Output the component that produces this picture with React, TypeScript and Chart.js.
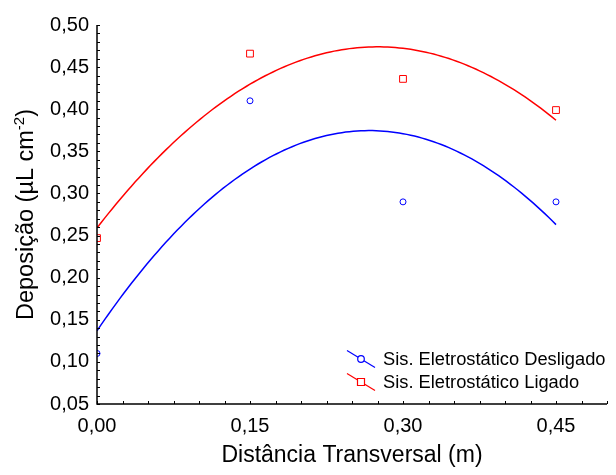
import React, { useEffect, useRef } from 'react';
import { Chart, registerables } from 'chart.js';

Chart.register(...registerables);

// Transverse distance (m) and measured deposition (µL cm-2)
const distances = [0, 0.15, 0.3, 0.45];
const depositOff = [0.11, 0.41, 0.29, 0.29];
const depositOn = [0.247, 0.466, 0.436, 0.399];

const seriesNames = ['Sis. Eletrostático Desligado', 'Sis. Eletrostático Ligado'];
const seriesColors = ['#0000ff', '#ff0000'];

const xTitle = 'Distância Transversal (m)';
const yTitleMain = 'Deposição (µL cm';
const yTitleSup = '-2';
const yTitleEnd = ')';

const FONT = '"Liberation Sans", Arial, sans-serif';

// Least-squares quadratic fit y = a + b x + c x^2
function quadFit(xs: number[], ys: number[]): [number, number, number] {
  const s = [0, 0, 0, 0, 0];
  const t = [0, 0, 0];
  xs.forEach((x, i) => {
    for (let k = 0; k < 5; k++) s[k] += Math.pow(x, k);
    for (let k = 0; k < 3; k++) t[k] += Math.pow(x, k) * ys[i];
  });
  const m = [
    [s[0], s[1], s[2], t[0]],
    [s[1], s[2], s[3], t[1]],
    [s[2], s[3], s[4], t[2]],
  ];
  for (let i = 0; i < 3; i++) {
    for (let j = i + 1; j < 3; j++) {
      const f = m[j][i] / m[i][i];
      for (let k = i; k < 4; k++) m[j][k] -= f * m[i][k];
    }
  }
  const r = [0, 0, 0];
  for (let i = 2; i >= 0; i--) {
    let v = m[i][3];
    for (let k = i + 1; k < 3; k++) v -= m[i][k] * r[k];
    r[i] = v / m[i][i];
  }
  return [r[0], r[1], r[2]];
}

function fitCurve(xs: number[], ys: number[]) {
  const [a, b, c] = quadFit(xs, ys);
  const lo = Math.min(...xs);
  const hi = Math.max(...xs);
  const pts: { x: number; y: number }[] = [];
  const n = 120;
  for (let i = 0; i <= n; i++) {
    const x = lo + ((hi - lo) * i) / n;
    pts.push({ x, y: a + b * x + c * x * x });
  }
  return pts;
}

const fmt = (v: number) => v.toFixed(2).replace('.', ',');

const decorPlugin = {
  id: 'decor',
  afterDraw(chart: any) {
    const { ctx, chartArea: a } = chart;
    const x = chart.scales.x;
    const y = chart.scales.y;
    ctx.save();

    // axis lines
    ctx.strokeStyle = '#000';
    ctx.lineWidth = 1.5;
    ctx.beginPath();
    ctx.moveTo(a.left, a.top);
    ctx.lineTo(a.left, a.bottom);
    ctx.lineTo(a.right, a.bottom);
    ctx.stroke();

    // inward tick marks
    ctx.lineWidth = 1;
    ctx.beginPath();
    for (let i = 5; i <= 50; i++) {
      const py = Math.round(y.getPixelForValue(i / 100)) + 0.5;
      ctx.moveTo(a.left, py);
      ctx.lineTo(a.left + 3, py);
    }
    for (let i = 0; i <= 20; i++) {
      const px = Math.round(x.getPixelForValue(i * 0.025)) + 0.5;
      ctx.moveTo(px, a.bottom);
      ctx.lineTo(px, a.bottom - 3);
    }
    ctx.stroke();

    // axis titles
    ctx.fillStyle = '#000';
    ctx.font = `23px ${FONT}`;
    ctx.textAlign = 'center';
    ctx.textBaseline = 'alphabetic';
    ctx.fillText(xTitle, (a.left + a.right) / 2, 462);

    ctx.save();
    ctx.font = `23.5px ${FONT}`;
    const w1 = ctx.measureText(yTitleMain).width;
    const w3 = ctx.measureText(yTitleEnd).width;
    ctx.font = `15px ${FONT}`;
    const w2 = ctx.measureText(yTitleSup).width;
    const total = w1 + w2 + w3;
    ctx.translate(33, (a.top + a.bottom) / 2);
    ctx.rotate(-Math.PI / 2);
    ctx.textAlign = 'left';
    let cx = -total / 2;
    ctx.font = `23.5px ${FONT}`;
    ctx.fillText(yTitleMain, cx, 0);
    cx += w1;
    ctx.font = `15px ${FONT}`;
    ctx.fillText(yTitleSup, cx, -9);
    cx += w2;
    ctx.font = `23.5px ${FONT}`;
    ctx.fillText(yTitleEnd, cx, 0);
    ctx.restore();

    // legend
    const rows = [359, 382];
    ctx.font = `18.3px ${FONT}`;
    ctx.textAlign = 'left';
    ctx.textBaseline = 'middle';
    rows.forEach((ry, i) => {
      ctx.strokeStyle = seriesColors[i];
      ctx.lineWidth = 1.2;
      ctx.beginPath();
      ctx.moveTo(347, ry - 8.5);
      ctx.lineTo(375, ry + 8.5);
      ctx.stroke();
      ctx.fillStyle = '#fff';
      ctx.beginPath();
      if (i === 0) {
        ctx.arc(361, ry, 3.3, 0, Math.PI * 2);
      } else {
        ctx.rect(357.5, ry - 3.5, 7, 7);
      }
      ctx.fill();
      ctx.stroke();
      ctx.fillStyle = '#000';
      ctx.fillText(seriesNames[i], 383, ry + 1);
    });

    ctx.restore();
  },
};

export default function App() {
  const ref = useRef<HTMLCanvasElement | null>(null);

  useEffect(() => {
    if (!ref.current) return;
    const offPts = distances.map((d, i) => ({ x: d, y: depositOff[i] }));
    const onPts = distances.map((d, i) => ({ x: d, y: depositOn[i] }));

    const chart = new Chart(ref.current, {
      type: 'scatter',
      data: {
        datasets: [
          {
            label: seriesNames[0] + ' (ajuste)',
            data: fitCurve(distances, depositOff),
            showLine: true,
            borderColor: seriesColors[0],
            borderWidth: 1.5,
            pointRadius: 0,
            clip: 0,
          },
          {
            label: seriesNames[1] + ' (ajuste)',
            data: fitCurve(distances, depositOn),
            showLine: true,
            borderColor: seriesColors[1],
            borderWidth: 1.5,
            pointRadius: 0,
            clip: 0,
          },
          {
            label: seriesNames[0],
            data: offPts,
            pointStyle: 'circle',
            pointRadius: 3,
            borderWidth: 1,
            borderColor: seriesColors[0],
            backgroundColor: 'rgba(0,0,0,0)',
            clip: 0,
          },
          {
            label: seriesNames[1],
            data: onPts,
            pointStyle: 'rect',
            pointRadius: 4.8,
            borderWidth: 1,
            borderColor: seriesColors[1],
            backgroundColor: 'rgba(0,0,0,0)',
            clip: 0,
          },
        ],
      },
      options: {
        responsive: false,
        animation: false,
        layout: { padding: { top: 25, right: 9, left: 0, bottom: 0 } },
        plugins: {
          legend: { display: false },
          tooltip: { enabled: false },
        },
        scales: {
          x: {
            type: 'linear',
            min: 0,
            max: 0.5,
            grid: { display: false, drawTicks: false },
            border: { display: false },
            ticks: {
              stepSize: 0.15,
              includeBounds: false,
              autoSkip: false,
              maxRotation: 0,
              padding: 10,
              color: '#000',
              font: { family: FONT, size: 20 },
              callback: (v: any) => fmt(Number(v)),
            },
            afterFit: (s: any) => {
              s.height = 71;
            },
          },
          y: {
            type: 'linear',
            min: 0.05,
            max: 0.5,
            grid: { display: false, drawTicks: false },
            border: { display: false },
            ticks: {
              stepSize: 0.05,
              autoSkip: false,
              padding: 8,
              color: '#000',
              font: { family: FONT, size: 20 },
              callback: (v: any) => fmt(Number(v)),
            },
            afterFit: (s: any) => {
              s.width = 97;
            },
          },
        },
      },
      plugins: [decorPlugin],
    });
    return () => chart.destroy();
  }, []);

  return (
    <div style={{ position: 'absolute', left: 0, top: 0, width: 616, height: 475, background: '#fff' }}>
      <canvas ref={ref} width={616} height={475} style={{ display: 'block' }} />
    </div>
  );
}
